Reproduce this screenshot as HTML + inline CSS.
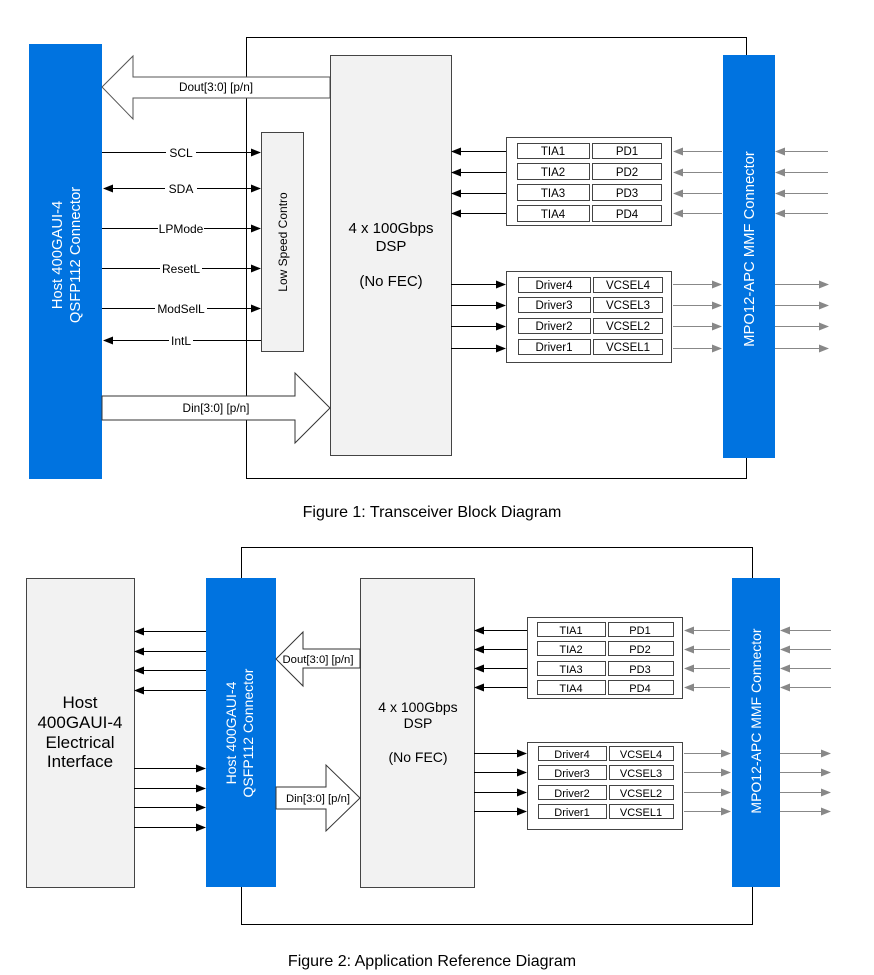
<!DOCTYPE html>
<html><head><style>
html,body{margin:0;padding:0;background:#fff;}
svg{display:block;font-family:"Liberation Sans",Arial,sans-serif;}
</style></head><body>
<svg width="874" height="975" viewBox="0 0 874 975" xmlns="http://www.w3.org/2000/svg">
<defs>
<marker id="ab" markerWidth="10" markerHeight="8" refX="9" refY="4" orient="auto" markerUnits="userSpaceOnUse"><path d="M0,0 L10,4 L0,8 z" fill="#000"/></marker>
<marker id="ag" markerWidth="10" markerHeight="8" refX="9" refY="4" orient="auto" markerUnits="userSpaceOnUse"><path d="M0,0 L10,4 L0,8 z" fill="#888"/></marker>
<marker id="abs" markerWidth="10" markerHeight="8" refX="1" refY="4" orient="auto" markerUnits="userSpaceOnUse"><path d="M10,0 L0,4 L10,8 z" fill="#000"/></marker>
</defs>

<!-- ===== FIGURE 1 ===== -->
<rect x="246.5" y="37.5" width="500" height="441" fill="none" stroke="#000" stroke-width="1"/>
<rect x="29" y="44" width="73" height="435" fill="#0073e0"/>
<g transform="translate(66,255) rotate(-90)" fill="#fff" font-size="14.8" text-anchor="middle">
<text y="-4">Host 400GAUI-4</text><text y="14">QSFP112 Connector</text></g>

<!-- Dout arrow -->
<polygon points="330,77 133,77 133,56 102,87 133,119 133,98 330,98" fill="#fff" stroke="#555" stroke-width="1"/>
<text x="216" y="91" font-size="11.8" text-anchor="middle">Dout[3:0] [p/n]</text>

<!-- DSP -->
<rect x="330.5" y="55.5" width="121" height="400" fill="#f2f2f2" stroke="#444"/>
<g font-size="15" text-anchor="middle"><text x="391" y="233">4 x 100Gbps</text><text x="391" y="251">DSP</text><text x="391" y="286">(No FEC)</text></g>

<!-- Low speed -->
<rect x="261.5" y="132.5" width="42" height="219" fill="#f2f2f2" stroke="#444"/>
<text transform="translate(287,242) rotate(-90)" font-size="12" text-anchor="middle">Low Speed Contro</text>

<g stroke="#000" stroke-width="1" fill="none">
<line x1="102" y1="152.5" x2="260" y2="152.5" marker-end="url(#ab)"/>
<line x1="104" y1="188.5" x2="260" y2="188.5" marker-end="url(#ab)" marker-start="url(#abs)"/>
<line x1="102" y1="228.5" x2="260" y2="228.5" marker-end="url(#ab)"/>
<line x1="102" y1="268.5" x2="260" y2="268.5" marker-end="url(#ab)"/>
<line x1="102" y1="308.5" x2="260" y2="308.5" marker-end="url(#ab)"/>
<line x1="261" y1="340.5" x2="104" y2="340.5" marker-end="url(#ab)"/>
</g>
<g font-size="12" text-anchor="middle">
<rect x="166" y="146" width="30" height="13" fill="#fff"/><text x="181" y="157">SCL</text>
<rect x="165" y="182" width="32" height="13" fill="#fff"/><text x="181" y="193">SDA</text>
<rect x="158" y="222" width="46" height="13" fill="#fff"/><text x="181" y="233">LPMode</text>
<rect x="160" y="262" width="42" height="13" fill="#fff"/><text x="181" y="273">ResetL</text>
<rect x="155" y="302" width="52" height="13" fill="#fff"/><text x="181" y="313">ModSelL</text>
<rect x="169" y="334" width="24" height="13" fill="#fff"/><text x="181" y="345">IntL</text>
</g>

<!-- Din arrow -->
<polygon points="102,396 295,396 295,373 330,408 295,443 295,420 102,420" fill="#fff" stroke="#333" stroke-width="1"/>
<text x="216" y="412" font-size="11.8" text-anchor="middle">Din[3:0] [p/n]</text>

<!-- TIA box -->
<rect x="506.5" y="137.5" width="165" height="88" fill="#fff" stroke="#444"/>
<g stroke="#444" fill="#fff">
<rect x="517.5" y="143.5" width="72" height="15"/><rect x="592.5" y="143.5" width="69" height="15"/>
<rect x="517.5" y="163.5" width="72" height="16"/><rect x="592.5" y="163.5" width="69" height="16"/>
<rect x="517.5" y="184.5" width="72" height="16"/><rect x="592.5" y="184.5" width="69" height="16"/>
<rect x="517.5" y="205.5" width="72" height="16"/><rect x="592.5" y="205.5" width="69" height="16"/>
</g>
<g font-size="11.5" text-anchor="middle">
<text x="553" y="155">TIA1</text><text x="627" y="155">PD1</text>
<text x="553" y="176">TIA2</text><text x="627" y="176">PD2</text>
<text x="553" y="197">TIA3</text><text x="627" y="197">PD3</text>
<text x="553" y="218">TIA4</text><text x="627" y="218">PD4</text>
</g>
<g stroke="#000" fill="none">
<line x1="506" y1="151.5" x2="452" y2="151.5" marker-end="url(#ab)"/>
<line x1="506" y1="172.5" x2="452" y2="172.5" marker-end="url(#ab)"/>
<line x1="506" y1="193.5" x2="452" y2="193.5" marker-end="url(#ab)"/>
<line x1="506" y1="213.5" x2="452" y2="213.5" marker-end="url(#ab)"/>
</g>

<!-- Driver box -->
<rect x="506.5" y="271.5" width="165" height="91" fill="#fff" stroke="#444"/>
<g stroke="#444" fill="#fff">
<rect x="518.5" y="277.5" width="72" height="15"/><rect x="593.5" y="277.5" width="69" height="15"/>
<rect x="518.5" y="297.5" width="72" height="15"/><rect x="593.5" y="297.5" width="69" height="15"/>
<rect x="518.5" y="318.5" width="72" height="15"/><rect x="593.5" y="318.5" width="69" height="15"/>
<rect x="518.5" y="339.5" width="72" height="15"/><rect x="593.5" y="339.5" width="69" height="15"/>
</g>
<g font-size="11.5" text-anchor="middle">
<text x="554" y="289">Driver4</text><text x="628" y="289">VCSEL4</text>
<text x="554" y="309">Driver3</text><text x="628" y="309">VCSEL3</text>
<text x="554" y="330">Driver2</text><text x="628" y="330">VCSEL2</text>
<text x="554" y="351">Driver1</text><text x="628" y="351">VCSEL1</text>
</g>
<g stroke="#000" fill="none">
<line x1="451" y1="284.5" x2="505" y2="284.5" marker-end="url(#ab)"/>
<line x1="451" y1="305.5" x2="505" y2="305.5" marker-end="url(#ab)"/>
<line x1="451" y1="326.5" x2="505" y2="326.5" marker-end="url(#ab)"/>
<line x1="451" y1="348.5" x2="505" y2="348.5" marker-end="url(#ab)"/>
</g>

<!-- MPO fig1 -->
<rect x="723" y="55" width="52" height="403" fill="#0073e0"/>
<text transform="translate(754,249) rotate(-90)" font-size="14.8" fill="#fff" text-anchor="middle">MPO12-APC MMF Connector</text>
<g stroke="#888" fill="none">
<line x1="722" y1="151.5" x2="674" y2="151.5" marker-end="url(#ag)"/>
<line x1="722" y1="172.5" x2="674" y2="172.5" marker-end="url(#ag)"/>
<line x1="722" y1="193.5" x2="674" y2="193.5" marker-end="url(#ag)"/>
<line x1="722" y1="213.5" x2="674" y2="213.5" marker-end="url(#ag)"/>
<line x1="828" y1="151.5" x2="776" y2="151.5" marker-end="url(#ag)"/>
<line x1="828" y1="172.5" x2="776" y2="172.5" marker-end="url(#ag)"/>
<line x1="828" y1="193.5" x2="776" y2="193.5" marker-end="url(#ag)"/>
<line x1="828" y1="213.5" x2="776" y2="213.5" marker-end="url(#ag)"/>
<line x1="673" y1="284.5" x2="721" y2="284.5" marker-end="url(#ag)"/>
<line x1="673" y1="305.5" x2="721" y2="305.5" marker-end="url(#ag)"/>
<line x1="673" y1="326.5" x2="721" y2="326.5" marker-end="url(#ag)"/>
<line x1="673" y1="348.5" x2="721" y2="348.5" marker-end="url(#ag)"/>
<line x1="775" y1="284.5" x2="828" y2="284.5" marker-end="url(#ag)"/>
<line x1="775" y1="305.5" x2="828" y2="305.5" marker-end="url(#ag)"/>
<line x1="775" y1="326.5" x2="828" y2="326.5" marker-end="url(#ag)"/>
<line x1="775" y1="348.5" x2="828" y2="348.5" marker-end="url(#ag)"/>
</g>

<text x="432" y="517" font-size="16" text-anchor="middle">Figure 1: Transceiver Block Diagram</text>

<!-- ===== FIGURE 2 ===== -->
<rect x="241.5" y="547.5" width="511" height="377" fill="none" stroke="#000"/>
<rect x="26.5" y="578.5" width="108" height="309" fill="#f2f2f2" stroke="#444"/>
<g font-size="17" text-anchor="middle"><text x="80" y="708">Host</text><text x="80" y="728">400GAUI-4</text><text x="80" y="748">Electrical</text><text x="80" y="767">Interface</text></g>

<rect x="206" y="578" width="70" height="309" fill="#0073e0"/>
<g transform="translate(240,733) rotate(-90)" fill="#fff" font-size="14" text-anchor="middle">
<text y="-4">Host 400GAUI-4</text><text y="13">QSFP112 Connector</text></g>

<g stroke="#000" fill="none">
<line x1="206" y1="631.5" x2="135" y2="631.5" marker-end="url(#ab)"/>
<line x1="206" y1="651.5" x2="135" y2="651.5" marker-end="url(#ab)"/>
<line x1="206" y1="670.5" x2="135" y2="670.5" marker-end="url(#ab)"/>
<line x1="206" y1="690.5" x2="135" y2="690.5" marker-end="url(#ab)"/>
<line x1="134" y1="768.5" x2="205" y2="768.5" marker-end="url(#ab)"/>
<line x1="134" y1="788.5" x2="205" y2="788.5" marker-end="url(#ab)"/>
<line x1="134" y1="807.5" x2="205" y2="807.5" marker-end="url(#ab)"/>
<line x1="134" y1="827.5" x2="205" y2="827.5" marker-end="url(#ab)"/>
</g>

<rect x="360.5" y="578.5" width="114" height="309" fill="#f2f2f2" stroke="#444"/>
<g font-size="14" text-anchor="middle"><text x="418" y="712">4 x 100Gbps</text><text x="418" y="728">DSP</text><text x="418" y="762">(No FEC)</text></g>

<polygon points="360,649 303,649 303,632 276,659 303,686 303,668 360,668" fill="#fff" stroke="#333"/>
<text x="318" y="663" font-size="11.3" text-anchor="middle">Dout[3:0] [p/n]</text>
<polygon points="276,787 326,787 326,765 360,798 326,831 326,809 276,809" fill="#fff" stroke="#333"/>
<text x="318" y="802" font-size="11.3" text-anchor="middle">Din[3:0] [p/n]</text>

<!-- TIA box fig2 -->
<rect x="527.5" y="617.5" width="155" height="81" fill="#fff" stroke="#444"/>
<g stroke="#444" fill="#fff">
<rect x="537.5" y="622.5" width="68" height="14"/><rect x="608.5" y="622.5" width="65" height="14"/>
<rect x="537.5" y="641.5" width="68" height="14"/><rect x="608.5" y="641.5" width="65" height="14"/>
<rect x="537.5" y="661.5" width="68" height="14"/><rect x="608.5" y="661.5" width="65" height="14"/>
<rect x="537.5" y="680.5" width="68" height="14"/><rect x="608.5" y="680.5" width="65" height="14"/>
</g>
<g font-size="11" text-anchor="middle">
<text x="571" y="634">TIA1</text><text x="640" y="634">PD1</text>
<text x="571" y="653">TIA2</text><text x="640" y="653">PD2</text>
<text x="571" y="673">TIA3</text><text x="640" y="673">PD3</text>
<text x="571" y="692">TIA4</text><text x="640" y="692">PD4</text>
</g>
<g stroke="#000" fill="none">
<line x1="527" y1="630.5" x2="475" y2="630.5" marker-end="url(#ab)"/>
<line x1="527" y1="649.5" x2="475" y2="649.5" marker-end="url(#ab)"/>
<line x1="527" y1="668.5" x2="475" y2="668.5" marker-end="url(#ab)"/>
<line x1="527" y1="687.5" x2="475" y2="687.5" marker-end="url(#ab)"/>
</g>

<rect x="527.5" y="742.5" width="155" height="87" fill="#fff" stroke="#444"/>
<g stroke="#444" fill="#fff">
<rect x="538.5" y="746.5" width="68" height="14"/><rect x="609.5" y="746.5" width="64" height="14"/>
<rect x="538.5" y="765.5" width="68" height="14"/><rect x="609.5" y="765.5" width="64" height="14"/>
<rect x="538.5" y="785.5" width="68" height="14"/><rect x="609.5" y="785.5" width="64" height="14"/>
<rect x="538.5" y="804.5" width="68" height="14"/><rect x="609.5" y="804.5" width="64" height="14"/>
</g>
<g font-size="11" text-anchor="middle">
<text x="572" y="758">Driver4</text><text x="641" y="758">VCSEL4</text>
<text x="572" y="777">Driver3</text><text x="641" y="777">VCSEL3</text>
<text x="572" y="797">Driver2</text><text x="641" y="797">VCSEL2</text>
<text x="572" y="816">Driver1</text><text x="641" y="816">VCSEL1</text>
</g>
<g stroke="#000" fill="none">
<line x1="474" y1="753.5" x2="526" y2="753.5" marker-end="url(#ab)"/>
<line x1="474" y1="772.5" x2="526" y2="772.5" marker-end="url(#ab)"/>
<line x1="474" y1="792.5" x2="526" y2="792.5" marker-end="url(#ab)"/>
<line x1="474" y1="811.5" x2="526" y2="811.5" marker-end="url(#ab)"/>
</g>

<rect x="732" y="578" width="48" height="309" fill="#0073e0"/>
<text transform="translate(761,721) rotate(-90)" font-size="14" fill="#fff" text-anchor="middle">MPO12-APC MMF Connector</text>
<g stroke="#888" fill="none">
<line x1="730" y1="630.5" x2="685" y2="630.5" marker-end="url(#ag)"/>
<line x1="730" y1="649.5" x2="685" y2="649.5" marker-end="url(#ag)"/>
<line x1="730" y1="668.5" x2="685" y2="668.5" marker-end="url(#ag)"/>
<line x1="730" y1="687.5" x2="685" y2="687.5" marker-end="url(#ag)"/>
<line x1="831" y1="630.5" x2="781" y2="630.5" marker-end="url(#ag)"/>
<line x1="831" y1="649.5" x2="781" y2="649.5" marker-end="url(#ag)"/>
<line x1="831" y1="668.5" x2="781" y2="668.5" marker-end="url(#ag)"/>
<line x1="831" y1="687.5" x2="781" y2="687.5" marker-end="url(#ag)"/>
<line x1="684" y1="753.5" x2="730" y2="753.5" marker-end="url(#ag)"/>
<line x1="684" y1="772.5" x2="730" y2="772.5" marker-end="url(#ag)"/>
<line x1="684" y1="792.5" x2="730" y2="792.5" marker-end="url(#ag)"/>
<line x1="684" y1="811.5" x2="730" y2="811.5" marker-end="url(#ag)"/>
<line x1="780" y1="753.5" x2="830" y2="753.5" marker-end="url(#ag)"/>
<line x1="780" y1="772.5" x2="830" y2="772.5" marker-end="url(#ag)"/>
<line x1="780" y1="792.5" x2="830" y2="792.5" marker-end="url(#ag)"/>
<line x1="780" y1="811.5" x2="830" y2="811.5" marker-end="url(#ag)"/>
</g>

<text x="432" y="966" font-size="16" text-anchor="middle">Figure 2: Application Reference Diagram</text>
</svg>
</body></html>
